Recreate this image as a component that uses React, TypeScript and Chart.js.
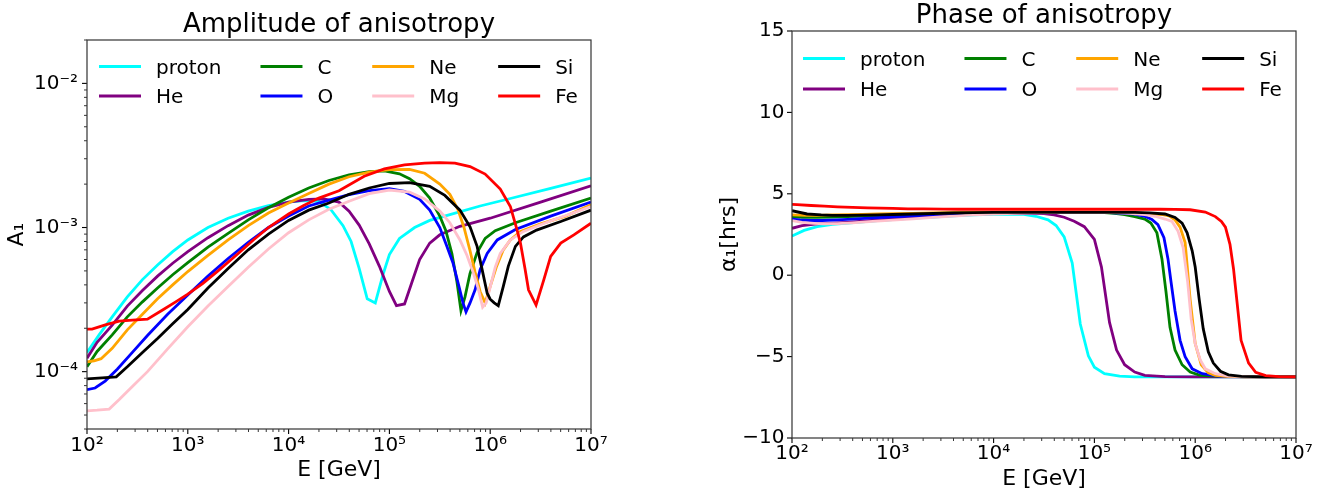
import React, { useEffect, useRef } from "react";
import { Chart, registerables } from "chart.js";

Chart.register(...registerables);

const FONT = "'DejaVu Sans', 'Liberation Sans', sans-serif";

// ---------------- data (log10 of E in GeV, amplitude A1, phase alpha1 in hrs) ----------------
const protonLogE = [2.0, 2.12, 2.25, 2.4, 2.55, 2.7, 2.85, 3.0, 3.2, 3.4, 3.6, 3.8, 4.0, 4.15, 4.3, 4.42, 4.54, 4.62, 4.7, 4.78, 4.86, 4.94, 5.0, 5.1, 5.25, 5.4, 5.6, 5.9, 6.2, 6.6, 7.0];
const protonAmp = [1.36e-4, 1.8e-4, 2.4e-4, 3.3e-4, 4.35e-4, 5.5e-4, 6.8e-4, 8.2e-4, 1.0e-3, 1.16e-3, 1.3e-3, 1.42e-3, 1.5e-3, 1.54e-3, 1.52e-3, 1.33e-3, 1.03e-3, 8.0e-4, 5.2e-4, 3.2e-4, 3.0e-4, 4.8e-4, 6.5e-4, 8.4e-4, 1.0e-3, 1.12e-3, 1.23e-3, 1.41e-3, 1.59e-3, 1.87e-3, 2.2e-3];
const protonPhase = [2.41, 2.75, 2.98, 3.12, 3.2, 3.28, 3.35, 3.42, 3.5, 3.57, 3.64, 3.7, 3.74, 3.76, 3.74, 3.62, 3.4, 3.05, 2.35, 0.75, -3.0, -4.95, -5.65, -6.05, -6.2, -6.24, -6.24, -6.24, -6.24, -6.24, -6.24];

const heLogE = [2.0, 2.1, 2.25, 2.4, 2.55, 2.7, 2.85, 3.0, 3.2, 3.4, 3.6, 3.8, 4.0, 4.2, 4.35, 4.5, 4.6, 4.7, 4.8, 4.9, 5.0, 5.07, 5.15, 5.22, 5.3, 5.4, 5.5, 5.7, 6.0, 6.5, 7.0];
const heAmp = [1.24e-4, 1.6e-4, 2.1e-4, 2.85e-4, 3.65e-4, 4.6e-4, 5.65e-4, 6.8e-4, 8.5e-4, 1.03e-3, 1.22e-3, 1.38e-3, 1.5e-3, 1.57e-3, 1.58e-3, 1.5e-3, 1.3e-3, 1.04e-3, 7.7e-4, 5.4e-4, 3.6e-4, 2.87e-4, 2.95e-4, 4.1e-4, 6.0e-4, 7.8e-4, 8.9e-4, 1.02e-3, 1.16e-3, 1.5e-3, 1.95e-3];
const hePhase = [2.88, 3.05, 3.15, 3.2, 3.25, 3.32, 3.4, 3.47, 3.55, 3.63, 3.7, 3.75, 3.78, 3.8, 3.8, 3.78, 3.7, 3.56, 3.32, 2.98, 2.2, 0.5, -2.9, -4.6, -5.5, -5.95, -6.15, -6.23, -6.24, -6.24, -6.24];

const cLogE = [2.0, 2.1, 2.25, 2.4, 2.55, 2.7, 2.85, 3.0, 3.2, 3.4, 3.6, 3.8, 4.0, 4.2, 4.4, 4.6, 4.8, 4.95, 5.1, 5.2, 5.3, 5.4, 5.5, 5.56, 5.62, 5.67, 5.71, 5.75, 5.8, 5.87, 5.95, 6.05, 6.25, 6.6, 7.0];
const cAmp = [1.08e-4, 1.38e-4, 1.8e-4, 2.4e-4, 3.05e-4, 3.8e-4, 4.7e-4, 5.7e-4, 7.3e-4, 9.1e-4, 1.13e-3, 1.37e-3, 1.62e-3, 1.88e-3, 2.12e-3, 2.32e-3, 2.44e-3, 2.47e-3, 2.36e-3, 2.18e-3, 1.93e-3, 1.6e-3, 1.2e-3, 9.5e-4, 6.6e-4, 4.2e-4, 2.65e-4, 3.3e-4, 4.8e-4, 6.7e-4, 8.4e-4, 9.5e-4, 1.08e-3, 1.3e-3, 1.6e-3];
const cPhase = [3.6, 3.56, 3.55, 3.57, 3.6, 3.63, 3.66, 3.7, 3.74, 3.78, 3.82, 3.84, 3.85, 3.86, 3.86, 3.86, 3.86, 3.86, 3.85, 3.8, 3.72, 3.6, 3.45, 3.2, 2.6, 1.0, -1.0, -3.2, -4.6, -5.5, -5.95, -6.15, -6.22, -6.24, -6.24];

const oLogE = [2.0, 2.08, 2.18, 2.3, 2.45, 2.6, 2.8, 3.0, 3.2, 3.4, 3.6, 3.8, 4.0, 4.2, 4.4, 4.6, 4.8, 5.0, 5.15, 5.3, 5.4, 5.5, 5.57, 5.63, 5.69, 5.73, 5.76, 5.8, 5.85, 5.9, 5.97, 6.07, 6.25, 6.6, 7.0];
const oAmp = [7.5e-5, 7.7e-5, 8.6e-5, 1.04e-4, 1.36e-4, 1.78e-4, 2.5e-4, 3.4e-4, 4.6e-4, 6.1e-4, 7.9e-4, 1.0e-3, 1.2e-3, 1.41e-3, 1.55e-3, 1.69e-3, 1.8e-3, 1.86e-3, 1.78e-3, 1.57e-3, 1.32e-3, 1.0e-3, 7.4e-4, 5.7e-4, 3.9e-4, 3.0e-4, 2.6e-4, 3.0e-4, 3.7e-4, 5.1e-4, 6.6e-4, 8.2e-4, 9.7e-4, 1.2e-3, 1.5e-3];
const oPhase = [3.45, 3.39, 3.36, 3.36, 3.4, 3.45, 3.52, 3.58, 3.65, 3.72, 3.78, 3.82, 3.85, 3.86, 3.86, 3.86, 3.86, 3.86, 3.85, 3.8, 3.75, 3.62, 3.42, 3.1, 2.3, 1.0, -0.4, -2.2, -4.0, -5.0, -5.75, -6.05, -6.22, -6.24, -6.24];

const neLogE = [2.0, 2.07, 2.14, 2.25, 2.4, 2.55, 2.7, 2.85, 3.0, 3.2, 3.4, 3.6, 3.8, 4.0, 4.2, 4.4, 4.6, 4.8, 5.0, 5.2, 5.35, 5.5, 5.6, 5.68, 5.74, 5.8, 5.85, 5.9, 5.95, 6.0, 6.06, 6.13, 6.2, 6.3, 6.5, 6.75, 7.0];
const neAmp = [1.17e-4, 1.19e-4, 1.23e-4, 1.45e-4, 1.95e-4, 2.5e-4, 3.2e-4, 4.0e-4, 4.95e-4, 6.4e-4, 8.2e-4, 1.03e-3, 1.26e-3, 1.48e-3, 1.72e-3, 2.0e-3, 2.25e-3, 2.42e-3, 2.52e-3, 2.53e-3, 2.38e-3, 2.0e-3, 1.7e-3, 1.33e-3, 1.0e-3, 6.9e-4, 4.9e-4, 3.6e-4, 3.0e-4, 3.9e-4, 5.3e-4, 7.0e-4, 8.2e-4, 9.4e-4, 1.06e-3, 1.2e-3, 1.44e-3];
const nePhase = [3.7, 3.69, 3.68, 3.68, 3.7, 3.72, 3.74, 3.76, 3.78, 3.8, 3.82, 3.84, 3.85, 3.86, 3.87, 3.87, 3.87, 3.87, 3.87, 3.86, 3.84, 3.8, 3.76, 3.72, 3.64, 3.4, 2.95, 2.0, -1.5, -4.2, -5.5, -6.0, -6.15, -6.22, -6.24, -6.24, -6.24];

const mgLogE = [2.0, 2.1, 2.22, 2.32, 2.45, 2.6, 2.8, 3.0, 3.2, 3.4, 3.6, 3.8, 4.0, 4.2, 4.4, 4.6, 4.8, 5.0, 5.2, 5.35, 5.5, 5.6, 5.7, 5.77, 5.83, 5.88, 5.925, 5.96, 6.0, 6.05, 6.1, 6.2, 6.33, 6.55, 7.0];
const mgAmp = [5.35e-5, 5.4e-5, 5.5e-5, 6.4e-5, 7.9e-5, 1.0e-4, 1.44e-4, 2.05e-4, 2.85e-4, 3.9e-4, 5.3e-4, 7.1e-4, 9.2e-4, 1.13e-3, 1.34e-3, 1.52e-3, 1.72e-3, 1.82e-3, 1.76e-3, 1.58e-3, 1.3e-3, 1.08e-3, 8.2e-4, 6.4e-4, 4.9e-4, 3.8e-4, 2.8e-4, 3.0e-4, 3.85e-4, 5.3e-4, 6.6e-4, 8.2e-4, 9.4e-4, 1.08e-3, 1.4e-3];
const mgPhase = [3.35, 3.25, 3.18, 3.16, 3.17, 3.22, 3.3, 3.38, 3.46, 3.55, 3.63, 3.7, 3.76, 3.8, 3.83, 3.85, 3.85, 3.85, 3.85, 3.8, 3.72, 3.62, 3.45, 3.3, 2.7, 1.7, -0.4, -2.7, -4.2, -5.2, -5.75, -6.05, -6.2, -6.24, -6.24];

const siLogE = [2.0, 2.15, 2.29, 2.4, 2.55, 2.7, 2.85, 3.0, 3.2, 3.4, 3.6, 3.8, 4.0, 4.2, 4.4, 4.6, 4.8, 5.0, 5.2, 5.4, 5.55, 5.7, 5.8, 5.87, 5.92, 5.97, 6.0, 6.04, 6.08, 6.13, 6.18, 6.25, 6.33, 6.46, 6.7, 7.0];
const siAmp = [8.9e-5, 9.05e-5, 9.2e-5, 1.08e-4, 1.36e-4, 1.7e-4, 2.15e-4, 2.7e-4, 3.8e-4, 5.2e-4, 7.0e-4, 9.0e-4, 1.12e-3, 1.32e-3, 1.48e-3, 1.7e-3, 1.88e-3, 2.02e-3, 2.05e-3, 1.93e-3, 1.67e-3, 1.32e-3, 1.01e-3, 7.4e-4, 5.1e-4, 3.5e-4, 3.18e-4, 3.0e-4, 2.87e-4, 3.9e-4, 5.4e-4, 7.4e-4, 8.6e-4, 9.6e-4, 1.1e-3, 1.32e-3];
const siPhase = [3.96, 3.76, 3.7, 3.68, 3.68, 3.69, 3.71, 3.73, 3.76, 3.79, 3.82, 3.84, 3.86, 3.86, 3.86, 3.86, 3.86, 3.86, 3.86, 3.86, 3.83, 3.76, 3.55, 3.2, 2.6, 1.5, 0.5, -1.5, -3.3, -4.7, -5.4, -5.9, -6.12, -6.22, -6.24, -6.24];

const feLogE = [2.0, 2.05, 2.19, 2.32, 2.45, 2.6, 2.75, 2.88, 3.0, 3.15, 3.3, 3.5, 3.65, 3.8, 4.0, 4.15, 4.3, 4.5, 4.75, 4.95, 5.15, 5.35, 5.5, 5.65, 5.8, 5.95, 6.1, 6.2, 6.26, 6.3, 6.345, 6.38, 6.455, 6.53, 6.6, 6.7, 6.83, 7.0];
const feAmp = [1.97e-4, 1.97e-4, 2.12e-4, 2.24e-4, 2.28e-4, 2.31e-4, 2.68e-4, 3.05e-4, 3.45e-4, 4.1e-4, 5.0e-4, 6.6e-4, 8.2e-4, 1.0e-3, 1.24e-3, 1.42e-3, 1.6e-3, 1.8e-3, 2.27e-3, 2.55e-3, 2.72e-3, 2.8e-3, 2.82e-3, 2.8e-3, 2.65e-3, 2.35e-3, 1.85e-3, 1.4e-3, 1.0e-3, 7.8e-4, 5.2e-4, 3.7e-4, 2.9e-4, 4.3e-4, 6.3e-4, 7.8e-4, 8.9e-4, 1.07e-3];
const fePhase = [4.35, 4.33, 4.28, 4.24, 4.2, 4.17, 4.14, 4.12, 4.1, 4.08, 4.07, 4.06, 4.05, 4.05, 4.05, 4.05, 4.05, 4.05, 4.05, 4.05, 4.05, 4.05, 4.05, 4.05, 4.04, 4.02, 3.88, 3.6, 3.3, 2.95, 1.9, 0.4, -4.0, -5.4, -5.97, -6.17, -6.23, -6.24];

const SPECIES = ["proton", "He", "C", "O", "Ne", "Mg", "Si", "Fe"];
const COLORS = ["#00ffff", "#800080", "#008000", "#0000ff", "#ffa500", "#ffc0cb", "#000000", "#ff0000"];
const LOG_E = [protonLogE, heLogE, cLogE, oLogE, neLogE, mgLogE, siLogE, feLogE];
const AMPS = [protonAmp, heAmp, cAmp, oAmp, neAmp, mgAmp, siAmp, feAmp];
const PHASES = [protonPhase, hePhase, cPhase, oPhase, nePhase, mgPhase, siPhase, fePhase];

const X_MIN = 1e2;
const X_MAX = 1e7;
const X_MAJOR = [1e2, 1e3, 1e4, 1e5, 1e6, 1e7];
const AMP_MIN = 4e-5;
const AMP_MAX = 2e-2;
const AMP_MAJOR = [1e-4, 1e-3, 1e-2];
const PHASE_MIN = -10;
const PHASE_MAX = 15;
const PHASE_MAJOR = [-10, -5, 0, 5, 10, 15];

// ---------------- helpers ----------------
const SUP: Record<string, string> = {
  "-": "\u207B", "0": "\u2070", "1": "\u00B9", "2": "\u00B2", "3": "\u00B3",
  "4": "\u2074", "5": "\u2075", "6": "\u2076", "7": "\u2077", "8": "\u2078", "9": "\u2079",
};
const pow10Label = (v: number) => {
  const n = Math.round(Math.log10(v));
  return "10" + String(n).split("").map((c) => SUP[c]).join("");
};
const linLabel = (v: number) => (v < 0 ? "\u2212" + Math.abs(v) : String(v));

interface Panel {
  title: string;
  yTitle: string;
  values: number[][];
  yLog: boolean;
  yMin: number;
  yMax: number;
  yMajor: number[];
  canvasW: number;
  yAxisW: number;
  xAxisH: number;
  padRight: number;
  titlePad: { top: number; bottom: number };
  yTitlePad: number;
  xTitlePad: number;
  yTickPad: number;
  xTickPad: number;
  legendX0: number;
  legendRows: number[];
}

const AMP_PANEL: Panel = {
  title: "Amplitude of anisotropy",
  yTitle: "A\u2081",
  values: AMPS,
  yLog: true,
  yMin: AMP_MIN,
  yMax: AMP_MAX,
  yMajor: AMP_MAJOR,
  canvasW: 662,
  yAxisW: 87,
  xAxisH: 65,
  padRight: 71,
  titlePad: { top: 12, bottom: 2 },
  yTitlePad: 4.1,
  xTitlePad: 10.8,
  yTickPad: 5,
  xTickPad: 0.4,
  legendX0: 12,
  legendRows: [26.5, 56],
};

const PHASE_PANEL: Panel = {
  title: "Phase of anisotropy",
  yTitle: "\u03B1\u2081[hrs]",
  values: PHASES,
  yLog: false,
  yMin: PHASE_MIN,
  yMax: PHASE_MAX,
  yMajor: PHASE_MAJOR,
  canvasW: 663,
  yAxisW: 130,
  xAxisH: 56,
  padRight: 29,
  titlePad: { top: 3.5, bottom: 1.5 },
  yTitlePad: 53.8,
  xTitlePad: 1.6,
  yTickPad: 3.5,
  xTickPad: 0.2,
  legendX0: 11,
  legendRows: [27.5, 58],
};

const axesPlugin = (p: Panel) => ({
  id: "mplAxes",
  afterDatasetsDraw(chart: any) {
    const { ctx, chartArea: a, scales } = chart;
    const xs = scales.x;
    const ys = scales.y;
    ctx.save();
    ctx.strokeStyle = "#000";
    const tick = (x1: number, y1: number, x2: number, y2: number, w: number) => {
      ctx.lineWidth = w;
      ctx.beginPath();
      ctx.moveTo(x1, y1);
      ctx.lineTo(x2, y2);
      ctx.stroke();
    };
    // x ticks (log)
    for (let n = 2; n <= 7; n++) {
      const px = xs.getPixelForValue(10 ** n);
      tick(px, a.bottom, px, a.bottom + 5, 1.1);
      if (n < 7) {
        for (let k = 2; k <= 9; k++) {
          const mx = xs.getPixelForValue(k * 10 ** n);
          tick(mx, a.bottom, mx, a.bottom + 3, 0.8);
        }
      }
    }
    // y ticks
    if (p.yLog) {
      const n0 = Math.floor(Math.log10(p.yMin));
      const n1 = Math.ceil(Math.log10(p.yMax));
      for (let n = n0; n <= n1; n++) {
        for (let k = 1; k <= 9; k++) {
          const v = k * 10 ** n;
          if (v < p.yMin * 0.999 || v > p.yMax * 1.001) continue;
          const py = ys.getPixelForValue(v);
          if (k === 1) tick(a.left - 5, py, a.left, py, 1.1);
          else tick(a.left - 3, py, a.left, py, 0.8);
        }
      }
    } else {
      for (const v of p.yMajor) {
        const py = ys.getPixelForValue(v);
        tick(a.left - 5, py, a.left, py, 1.1);
      }
    }
    // spines
    ctx.strokeStyle = "#333";
    ctx.lineWidth = 1.2;
    ctx.strokeRect(a.left, a.top, a.right - a.left, a.bottom - a.top);
    ctx.restore();
  },
});

const legendPlugin = (p: Panel) => ({
  id: "mplLegend",
  afterDraw(chart: any) {
    const { ctx, chartArea: a } = chart;
    ctx.save();
    ctx.font = `20px ${FONT}`;
    ctx.textBaseline = "alphabetic";
    ctx.textAlign = "left";
    let x = a.left + p.legendX0;
    for (let c = 0; c < 4; c++) {
      const idxs = [2 * c, 2 * c + 1];
      const maxW = Math.max(...idxs.map((i) => ctx.measureText(SPECIES[i]).width));
      idxs.forEach((idx, r) => {
        const y = a.top + p.legendRows[r];
        ctx.strokeStyle = COLORS[idx];
        ctx.lineWidth = 2.8;
        ctx.beginPath();
        ctx.moveTo(x, y);
        ctx.lineTo(x + 42, y);
        ctx.stroke();
        ctx.fillStyle = "#000";
        ctx.fillText(SPECIES[idx], x + 57, y + 7);
      });
      x += 57 + maxW + 39;
    }
    ctx.restore();
  },
});

function buildConfig(p: Panel): any {
  const datasets = SPECIES.map((name, i) => ({
    label: name,
    data: LOG_E[i].map((e, j) => ({ x: 10 ** e, y: p.values[i][j] })),
    borderColor: COLORS[i],
    backgroundColor: COLORS[i],
    borderWidth: 2.8,
    pointRadius: 0,
    pointHoverRadius: 0,
    tension: 0,
    fill: false,
    order: SPECIES.length - i,
  }));
  const tickFont = { family: FONT, size: 20, weight: "normal" as const };
  const titleFont = { family: FONT, size: 22, weight: "normal" as const, lineHeight: 1.2 };
  return {
    type: "line",
    data: { datasets },
    options: {
      animation: false,
      responsive: false,
      events: [],
      layout: { padding: { left: 0, right: p.padRight, top: 0, bottom: 0 } },
      plugins: {
        legend: { display: false },
        tooltip: { enabled: false },
        title: {
          display: true,
          fullSize: false,
          text: p.title,
          color: "#000",
          font: { family: FONT, size: 26, weight: "normal", lineHeight: 1.0 },
          padding: p.titlePad,
        },
      },
      scales: {
        x: {
          type: "logarithmic",
          min: X_MIN,
          max: X_MAX,
          border: { display: false },
          grid: { display: false, drawTicks: true, tickLength: 4 },
          ticks: {
            color: "#000",
            font: tickFont,
            padding: p.xTickPad,
            autoSkip: false,
            maxRotation: 0,
            minRotation: 0,
            callback: (v: number) => pow10Label(v),
          },
          afterBuildTicks: (s: any) => {
            s.ticks = X_MAJOR.map((v) => ({ value: v }));
          },
          afterFit: (s: any) => {
            s.height = p.xAxisH;
          },
          title: {
            display: true,
            text: "E [GeV]",
            color: "#000",
            font: titleFont,
            padding: { top: 0, bottom: p.xTitlePad },
          },
        },
        y: {
          type: p.yLog ? "logarithmic" : "linear",
          min: p.yMin,
          max: p.yMax,
          border: { display: false },
          grid: { display: false, drawTicks: true, tickLength: 4 },
          ticks: {
            color: "#000",
            font: tickFont,
            padding: p.yTickPad,
            autoSkip: false,
            callback: (v: number) => (p.yLog ? pow10Label(v) : linLabel(v)),
          },
          afterBuildTicks: (s: any) => {
            s.ticks = p.yMajor.map((v) => ({ value: v }));
          },
          afterFit: (s: any) => {
            s.width = p.yAxisW;
          },
          title: {
            display: true,
            text: p.yTitle,
            color: "#000",
            font: titleFont,
            padding: { top: p.yTitlePad, bottom: 0 },
          },
        },
      },
    },
    plugins: [axesPlugin(p), legendPlugin(p)],
  };
}

export default function App() {
  const ref1 = useRef<HTMLCanvasElement>(null);
  const ref2 = useRef<HTMLCanvasElement>(null);
  useEffect(() => {
    const c1 = new Chart(ref1.current as HTMLCanvasElement, buildConfig(AMP_PANEL));
    const c2 = new Chart(ref2.current as HTMLCanvasElement, buildConfig(PHASE_PANEL));
    return () => {
      c1.destroy();
      c2.destroy();
    };
  }, []);
  return (
    <div style={{ position: "absolute", left: 0, top: 0, width: 1325, height: 494, background: "#fff" }}>
      <canvas
        ref={ref1}
        width={AMP_PANEL.canvasW}
        height={494}
        style={{ position: "absolute", left: 0, top: 0, width: AMP_PANEL.canvasW, height: 494 }}
      />
      <canvas
        ref={ref2}
        width={PHASE_PANEL.canvasW}
        height={494}
        style={{ position: "absolute", left: AMP_PANEL.canvasW, top: 0, width: PHASE_PANEL.canvasW, height: 494 }}
      />
    </div>
  );
}
